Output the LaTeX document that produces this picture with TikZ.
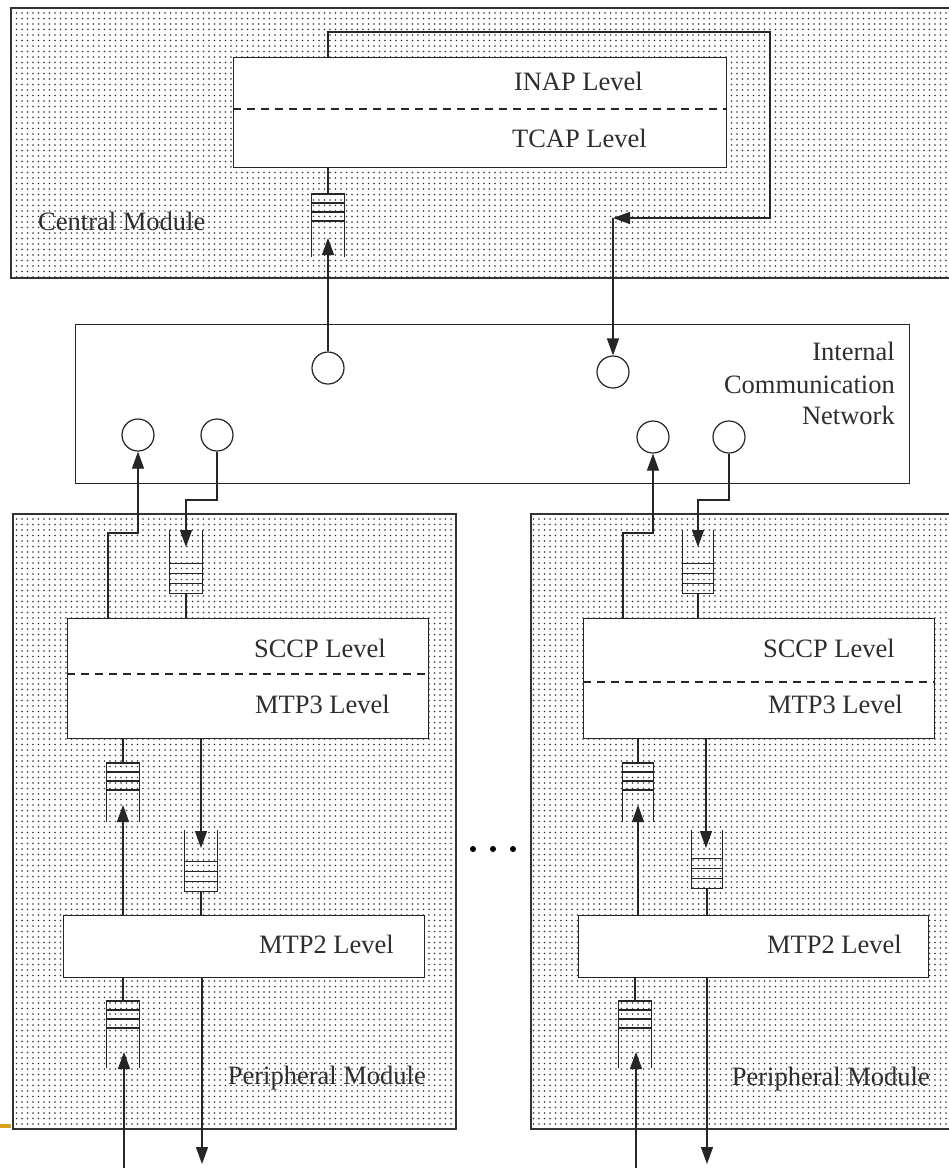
\documentclass[tikz,border=0pt]{standalone}
\usepackage{fontspec}
\setmainfont{Liberation Serif}
\usetikzlibrary{arrows.meta,patterns.meta,calc}
\definecolor{goldbar}{HTML}{D9A21B}
\tikzset{
 module/.style={draw=black!80, line width=1.5pt, pattern={Dots[distance=5.5pt,radius=0.95pt]}, pattern color=black!80, inner sep=0, anchor=north west},
 level/.style={draw=black!85, fill=white, line width=1.3pt, inner sep=0, anchor=north west},
 port/.style={circle, draw=black!85, fill=white, line width=1.2pt, minimum size=32pt, inner sep=0},
 queue/.style={minimum width=32pt, inner sep=0, anchor=north},
 qline/.style={line width=1.2pt, draw=black!85},
 conn/.style={line width=1.2pt, draw=black!85},
 arr/.style={conn, -{Triangle[length=17pt,width=12pt]}},
 lbl/.style={font=\fontsize{26.5}{32}\selectfont, text=black!82, inner sep=0},
 sepline/.style={line width=1.3pt, draw=black!85, dash pattern=on 8pt off 6pt},
 elldot/.style={circle, fill=black, minimum size=6pt, inner sep=0}
}
\newcommand\qup[1]{%
 \draw[qline] (#1.south west) -- (#1.north west) -- (#1.north east) -- (#1.south east);
 \foreach \d in {9,18,27}{\draw[qline] ($(#1.north west)+(0,\d)$) -- ($(#1.north east)+(0,\d)$);}
}
\newcommand\qdown[1]{%
 \draw[qline] (#1.north west) -- (#1.south west) -- (#1.south east) -- (#1.north east);
 \foreach \d in {10,20,30}{\draw[qline] ($(#1.south west)+(0,-\d)$) -- ($(#1.south east)+(0,-\d)$);}
}
\begin{document}
\begin{tikzpicture}[x=1pt,y=-1pt]
\useasboundingbox (0,0) rectangle (949,1168);
\clip (0,0) rectangle (949,1168);

% modules
\node[module, minimum width=950pt, minimum height=270pt] (cm) at (10,7) {};
\node[level, minimum width=834pt, minimum height=159pt] (net) at (75,324) {};
\node[module, minimum width=443pt, minimum height=615pt] (pl) at (12,513) {};
\node[module, minimum width=430pt, minimum height=615pt] (pr) at (530,513) {};
\fill[goldbar] (0,1124) rectangle (11,1128);

% level boxes
\node[level, minimum width=493pt, minimum height=110pt] (inap) at (233,57) {};
\draw[sepline] (inap.west |- 0,109) -- (inap.east |- 0,109);
\node[level, minimum width=361pt, minimum height=120pt] (sl) at (67,618) {};
\draw[sepline] (sl.west |- 0,674) -- (sl.east |- 0,674);
\node[level, minimum width=351pt, minimum height=120pt] (sr) at (583,618) {};
\draw[sepline] (sr.west |- 0,682) -- (sr.east |- 0,682);
\node[level, minimum width=361pt, minimum height=62pt] (ml) at (63,915) {};
\node[level, minimum width=350pt, minimum height=62pt] (mr) at (578,915) {};

% labels
\node[lbl, anchor=base east] (tinap) at (643,90) {INAP Level};
\node[lbl, anchor=base east] (ttcap) at (647,147) {TCAP Level};
\node[lbl, anchor=base west] (tcm) at (38,230) {Central Module};
\node[lbl, anchor=base east] (tn1) at (895,360) {Internal};
\node[lbl, anchor=base east] (tn2) at (895,393) {Communication};
\node[lbl, anchor=base east] (tn3) at (895,424) {Network};
\node[lbl, anchor=base east] (tsl) at (386,657) {SCCP Level};
\node[lbl, anchor=base east] (tml3) at (390,713) {MTP3 Level};
\node[lbl, anchor=base east] (tsr) at (895,657) {SCCP Level};
\node[lbl, anchor=base east] (tmr3) at (903,713) {MTP3 Level};
\node[lbl, anchor=base east] (tml2) at (394,953) {MTP2 Level};
\node[lbl, anchor=base east] (tmr2) at (902,953) {MTP2 Level};
\node[lbl, anchor=base east] (tpl) at (426,1084) {Peripheral Module};
\node[lbl, anchor=base east] (tpr) at (930,1085) {Peripheral Module};

% ports
\node[port] (c1) at (328,368) {};
\node[port] (c2) at (613,372) {};
\node[port] (c3) at (138,435) {};
\node[port] (c4) at (217,435) {};
\node[port] (c5) at (653,437) {};
\node[port] (c6) at (729,437) {};

% queues
\node[queue, minimum height=63pt] (qc) at (328,194) {};
\node[queue, minimum height=63pt] (ql1) at (186,530) {};
\node[queue, minimum height=59pt] (ql2) at (123,763) {};
\node[queue, minimum height=61pt] (ql3) at (201,830) {};
\node[queue, minimum height=67pt] (ql4) at (123,1001) {};
\node[queue, minimum height=63pt, minimum width=31pt] (qr1) at (698,530) {};
\node[queue, minimum height=59pt, minimum width=30pt] (qr2) at (638,763) {};
\node[queue, minimum height=58pt, minimum width=30pt] (qr3) at (707,830) {};
\node[queue, minimum height=67pt] (qr4) at (635,1001) {};
\qup{qc}
\qdown{ql1}
\qup{ql2}
\qdown{ql3}
\qup{ql4}
\qdown{qr1}
\qup{qr2}
\qdown{qr3}
\qup{qr4}

% ellipsis
\node[elldot] (e1) at (473,849) {};
\node[elldot] (e2) at (493,849) {};
\node[elldot] (e3) at (513,849) {};

% central connectors
\coordinate (lt) at (328,32);
\coordinate (rt) at (770,32);
\coordinate (rb) at (770,218);
\coordinate (le) at (613,218);
\draw[arr] (inap.north -| lt) -- (lt) -- (rt) -- (rb) -- (le);
\draw[arr] (le) -- (c2.north);
\draw[conn] (inap.south -| qc.north) -- (qc.north);
\coordinate (qct) at (328,238);
\draw[arr] (c1.north) -- (qct);

% left peripheral connectors
\coordinate (a1) at (108,533);
\coordinate (a2) at (138,533);
\draw[arr] (sl.north -| a1) -- (a1) -- (a2) -- (c3.south);
\coordinate (b1) at (217,500);
\coordinate (b2) at (186,500);
\coordinate (b3) at (186,547);
\draw[arr] (c4.south) -- (b1) -- (b2) -- (b3);
\draw[conn] (ql1.south) -- (ql1.south |- sl.north);
\draw[conn] (ql2.north |- sl.south) -- (ql2.north);
\coordinate (l2t) at (123,805);
\draw[arr] (ml.north -| l2t) -- (l2t);
\coordinate (l3t) at (201,848);
\draw[arr] (sl.south -| l3t) -- (l3t);
\draw[conn] (ql3.south) -- (ql3.south |- ml.north);
\draw[conn] (ql4.north |- ml.south) -- (ql4.north);
\coordinate (l4s) at (124,1170);
\coordinate (l4t) at (124,1052);
\draw[arr] (l4s) -- (l4t);
\coordinate (l5e) at (202,1164);
\draw[arr] (ml.south -| l5e) -- (l5e);

% right peripheral connectors
\coordinate (ra1) at (623,533);
\coordinate (ra2) at (653,533);
\draw[arr] (sr.north -| ra1) -- (ra1) -- (ra2) -- (c5.south);
\coordinate (rb1) at (729,500);
\coordinate (rb2) at (698,500);
\coordinate (rb3) at (698,547);
\draw[arr] (c6.south) -- (rb1) -- (rb2) -- (rb3);
\draw[conn] (qr1.south) -- (qr1.south |- sr.north);
\draw[conn] (qr2.north |- sr.south) -- (qr2.north);
\coordinate (r2t) at (638,805);
\draw[arr] (mr.north -| r2t) -- (r2t);
\coordinate (r3t) at (706,848);
\draw[arr] (sr.south -| r3t) -- (r3t);
\draw[conn] (qr3.south) -- (qr3.south |- mr.north);
\draw[conn] (qr4.north |- mr.south) -- (qr4.north);
\coordinate (r4s) at (636,1170);
\coordinate (r4t) at (636,1052);
\draw[arr] (r4s) -- (r4t);
\coordinate (r5e) at (707,1164);
\draw[arr] (mr.south -| r5e) -- (r5e);
\end{tikzpicture}
\end{document}
